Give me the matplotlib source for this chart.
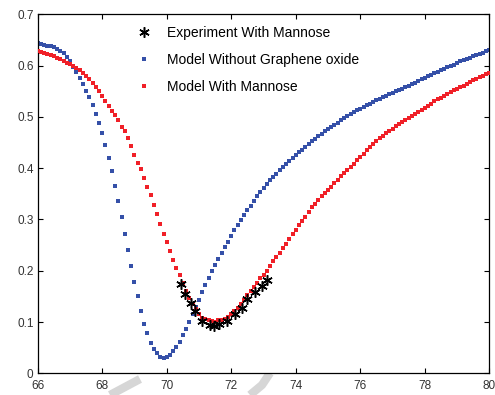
import numpy as np
import matplotlib
matplotlib.use("Agg")
import matplotlib.pyplot as plt
from matplotlib.lines import Line2D

plt.rcParams['font.family'] = ['Liberation Sans', 'DejaVu Sans']

# angle grid of the two model curves (deg), one point every 0.1
angle = np.round(np.arange(66.0, 80.05, 0.1), 1)

model_without_go = [
    0.644, 0.643, 0.641, 0.639, 0.638, 0.636, 0.633, 0.629, 0.624, 0.617,
    0.608, 0.598, 0.587, 0.576, 0.564, 0.551, 0.538, 0.523, 0.506, 0.489,
    0.468, 0.445, 0.420, 0.395, 0.366, 0.336, 0.304, 0.272, 0.241, 0.210,
    0.178, 0.150, 0.122, 0.097, 0.078, 0.060, 0.047, 0.039, 0.032, 0.030,
    0.031, 0.036, 0.043, 0.051, 0.062, 0.074, 0.087, 0.101, 0.115, 0.129,
    0.143, 0.158, 0.172, 0.186, 0.199, 0.211, 0.222, 0.234, 0.246, 0.257,
    0.268, 0.279, 0.289, 0.299, 0.308, 0.318, 0.327, 0.336, 0.345, 0.353,
    0.361, 0.369, 0.376, 0.383, 0.389, 0.396, 0.402, 0.408, 0.414, 0.420,
    0.426, 0.431, 0.436, 0.442, 0.447, 0.452, 0.457, 0.462, 0.467, 0.472,
    0.476, 0.480, 0.484, 0.489, 0.493, 0.497, 0.501, 0.505, 0.509, 0.513,
    0.516, 0.519, 0.523, 0.526, 0.529, 0.532, 0.535, 0.538, 0.541, 0.544,
    0.547, 0.550, 0.552, 0.555, 0.558, 0.561, 0.564, 0.567, 0.570, 0.573,
    0.576, 0.579, 0.582, 0.585, 0.588, 0.591, 0.594, 0.597, 0.600, 0.602,
    0.605, 0.608, 0.610, 0.613, 0.615, 0.618, 0.620, 0.623, 0.625, 0.628,
    0.631,
]

model_with_mannose = [
    0.628, 0.626, 0.624, 0.622, 0.620, 0.618, 0.615, 0.612, 0.609, 0.606,
    0.603, 0.600, 0.596, 0.591, 0.586, 0.580, 0.573, 0.566, 0.558, 0.550,
    0.541, 0.531, 0.521, 0.512, 0.503, 0.494, 0.481, 0.472, 0.458, 0.443,
    0.426, 0.411, 0.398, 0.380, 0.364, 0.347, 0.329, 0.310, 0.292, 0.272,
    0.257, 0.239, 0.221, 0.205, 0.191, 0.177, 0.161, 0.147, 0.135, 0.125,
    0.115, 0.108, 0.105, 0.103, 0.102, 0.101, 0.103, 0.104, 0.106, 0.110,
    0.115, 0.121, 0.128, 0.135, 0.143, 0.152, 0.161, 0.169, 0.176, 0.185,
    0.191, 0.199, 0.209, 0.219, 0.227, 0.235, 0.244, 0.253, 0.262, 0.271,
    0.280, 0.289, 0.297, 0.305, 0.314, 0.324, 0.331, 0.338, 0.345, 0.351,
    0.358, 0.364, 0.371, 0.377, 0.384, 0.390, 0.397, 0.403, 0.409, 0.415,
    0.422, 0.428, 0.435, 0.442, 0.448, 0.453, 0.458, 0.463, 0.468, 0.473,
    0.477, 0.482, 0.486, 0.490, 0.494, 0.498, 0.502, 0.506, 0.510, 0.514,
    0.518, 0.522, 0.526, 0.530, 0.534, 0.537, 0.541, 0.545, 0.548, 0.552,
    0.555, 0.558, 0.561, 0.564, 0.568, 0.571, 0.574, 0.577, 0.580, 0.583,
    0.586,
]

# measured points
exp_angle = [70.45, 70.58, 70.76, 70.87, 71.08, 71.34, 71.45, 71.63, 71.86,
             72.12, 72.33, 72.50, 72.74, 72.95, 73.10]
exp_refl = [0.175, 0.155, 0.137, 0.122, 0.102, 0.095, 0.093, 0.096, 0.102,
            0.115, 0.128, 0.145, 0.158, 0.171, 0.182]

xticks = [66, 68, 70, 72, 74, 76, 78, 80]
yticks = [0, 0.1, 0.2, 0.3, 0.4, 0.5, 0.6, 0.7]
ytick_labels = ['0', '0.1', '0.2', '0.3', '0.4', '0.5', '0.6', '0.7']

blue = '#3550a8'
red = '#f02028'

fig = plt.figure(figsize=(4.95, 3.95), dpi=100)
ax = fig.add_axes([0.0762, 0.0549, 0.9123, 0.9089])

ax.plot(exp_angle, exp_refl, linestyle='none', marker=(6, 2, 0), color='black',
        markersize=7.5, markeredgewidth=1.1, label='Experiment With Mannose', zorder=4)
ax.plot(angle, model_without_go, linestyle='none', marker='s', color=blue,
        markersize=3.0, markeredgewidth=0, label='Model Without Graphene oxide', zorder=2)
ax.plot(angle, model_with_mannose, linestyle='none', marker='s', color=red,
        markersize=3.0, markeredgewidth=0, label='Model With Mannose', zorder=3)

ax.set_xlim(66, 80)
ax.set_ylim(0, 0.7)
ax.set_xticks(xticks)
ax.set_yticks(yticks)
ax.set_yticklabels(ytick_labels)
ax.tick_params(direction='in', length=3.5, width=0.8, top=True, right=True,
               labelsize=8.5, labelcolor='#333333')
ax.tick_params(axis='x', pad=5)
ax.tick_params(axis='y', pad=3)
for s in ax.spines.values():
    s.set_linewidth(0.9)

leg = ax.legend(loc='upper left', bbox_to_anchor=(0.19, 1.003), frameon=False,
                fontsize=10, handlelength=1.2, handletextpad=1.0,
                labelspacing=0.95, markerscale=1.0)
for h in leg.legend_handles[1:]:
    h.set_markersize(3.4)

# faint grey watermark strokes below the axis
fig.add_artist(Line2D([110, 140], [0, 16], transform=None, color='#d6d6d6',
                      linewidth=6, solid_capstyle='butt', zorder=0))
fig.add_artist(Line2D([250, 262, 270], [0, 10, 22], transform=None, color='#d6d6d6',
                      linewidth=6, solid_capstyle='butt', zorder=0))

fig.savefig('out.png', dpi=100)
